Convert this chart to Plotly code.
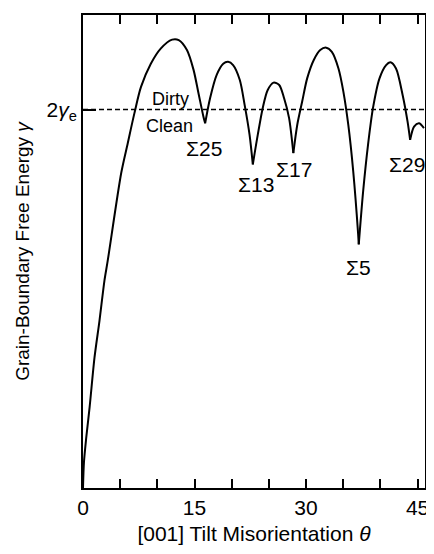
import plotly.graph_objects as go

# Tilt misorientation (degrees) and grain-boundary free energy (arbitrary units, 2*gamma_e = 0.8)
theta_deg = [0.0, 0.13, 0.44, 0.89, 1.55, 2.22, 2.88, 3.32, 5.14, 6.02, 6.91, 7.80, 9.12,
             10.45, 11.99, 12.88, 13.98, 14.87, 15.54, 16.20, 16.43,
             17.09, 17.97, 18.86, 19.52, 20.19, 21.08, 21.74, 22.40, 22.84,
             23.51, 24.17, 24.83, 25.63, 26.39, 27.05, 27.72, 28.29,
             28.82, 29.48, 30.15, 31.04, 31.91, 32.71, 33.47, 34.36, 35.02, 35.68, 36.35, 37.01, 37.09,
             37.68, 38.34, 39.00, 39.88, 40.77, 41.34, 42.10, 42.99, 43.65, 44.00,
             44.53, 45.19, 45.86]
gamma = [0.0, 0.055, 0.107, 0.171, 0.276, 0.354, 0.438, 0.480, 0.666, 0.729, 0.792, 0.848, 0.897,
         0.929, 0.948, 0.947, 0.926, 0.884, 0.834, 0.785, 0.771,
         0.824, 0.873, 0.897, 0.901, 0.894, 0.863, 0.810, 0.747, 0.684,
         0.747, 0.803, 0.841, 0.857, 0.852, 0.824, 0.782, 0.708,
         0.768, 0.817, 0.866, 0.905, 0.926, 0.931, 0.922, 0.887, 0.838, 0.768, 0.669, 0.536, 0.515,
         0.627, 0.726, 0.803, 0.866, 0.894, 0.900, 0.887, 0.831, 0.775, 0.736,
         0.764, 0.771, 0.761]

two_gamma_e = 0.8
sigma_labels = ["Σ25", "Σ13", "Σ17", "Σ5", "Σ29"]
sigma_label_theta = [16.33, 23.24, 28.42, 37.05, 43.56]
sigma_label_gamma = [0.718, 0.642, 0.674, 0.467, 0.684]
x_tick_vals = [0, 15, 30, 45]
x_tick_text = ["0", "15", "30", "45"]
x_minor_step = 5

FONT = "Liberation Sans, Arial, Helvetica, sans-serif"

# split curve at cusps (local minima) so each arc is smooth and cusps stay sharp
cusps = [i for i in range(1, len(gamma) - 1) if gamma[i] < gamma[i - 1] and gamma[i] < gamma[i + 1]]
bounds = [0] + cusps + [len(gamma) - 1]

fig = go.Figure()
for a, b in zip(bounds[:-1], bounds[1:]):
    fig.add_trace(go.Scatter(x=theta_deg[a:b + 1], y=gamma[a:b + 1], mode="lines",
                             line=dict(color="black", width=2, shape="spline", smoothing=0.8),
                             showlegend=False, hoverinfo="skip"))

fig.add_trace(go.Scatter(x=[0, 46], y=[two_gamma_e, two_gamma_e], mode="lines",
                         line=dict(color="black", width=1.5, dash="5px,3px"),
                         showlegend=False, hoverinfo="skip"))

for lab, tx, ty in zip(sigma_labels, sigma_label_theta, sigma_label_gamma):
    fig.add_annotation(x=tx, y=ty, text=lab, showarrow=False, xanchor="center", yanchor="middle",
                       font=dict(family=FONT, size=21, color="black"))

fig.add_annotation(x=11.82, y=0.823, text="Dirty", showarrow=False, xanchor="center", yanchor="middle",
                   font=dict(family=FONT, size=18, color="black"))
fig.add_annotation(x=11.69, y=0.766, text="Clean", showarrow=False, xanchor="center", yanchor="middle",
                   font=dict(family=FONT, size=18, color="black"))

fig.update_layout(
    width=426, height=546,
    margin=dict(l=75, r=5, t=5, b=66),
    paper_bgcolor="white", plot_bgcolor="white",
    font=dict(family=FONT, size=21, color="black"),
    xaxis=dict(range=[0, 46], tickvals=x_tick_vals, ticktext=x_tick_text,
               ticks="inside", ticklen=9, tickwidth=2, tickcolor="black",
               minor=dict(dtick=x_minor_step, tick0=0, ticks="inside", ticklen=9,
                          tickwidth=2, tickcolor="black", gridcolor="rgba(0,0,0,0)"),
               showline=True, linecolor="black", linewidth=2, mirror="ticks",
               gridcolor="rgba(0,0,0,0)", zerolinecolor="rgba(0,0,0,0)",
               title=dict(text="[001] Tilt Misorientation <i>θ</i>", standoff=8,
                          font=dict(family=FONT, size=21))),
    yaxis=dict(range=[0, 1], tickvals=[two_gamma_e], ticktext=["2<i>γ</i><sub>e</sub>"],
               ticks="inside", ticklen=13, tickwidth=2, tickcolor="black",
               showline=True, linecolor="black", linewidth=2, mirror=True,
               gridcolor="rgba(0,0,0,0)", zerolinecolor="rgba(0,0,0,0)",
               title=dict(text="Grain-Boundary Free Energy <i>γ</i>", standoff=12,
                          font=dict(family=FONT, size=19))),
)

fig.write_html("out.html")
